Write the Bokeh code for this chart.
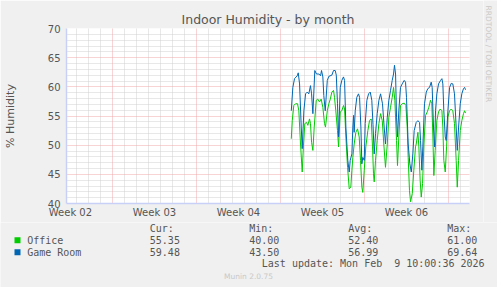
from math import pi
from bokeh.plotting import figure
from bokeh.layouts import column, row
from bokeh.models import Range1d, FixedTicker, Grid
from bokeh.core.properties import value
from bokeh.embed import file_html
from bokeh.resources import INLINE

# ---------------- data (x = days from left edge of the month window) ----------------
office_day = [18.73, 18.81, 18.94, 19.08, 19.25, 19.36, 19.50, 19.64, 19.75, 19.86, 20.00, 20.11,
              20.25, 20.33, 20.42, 20.53, 20.64, 20.81, 20.94, 21.08, 21.22, 21.36, 21.50, 21.58,
              21.73, 21.86, 21.98, 22.11, 22.25, 22.33, 22.44, 22.58, 22.67, 22.81, 22.94, 23.08,
              23.17, 23.28, 23.42, 23.56, 23.69, 23.78, 23.86, 23.97, 24.11, 24.25, 24.39, 24.50,
              24.61, 24.69, 24.81, 24.94, 25.11, 25.25, 25.39, 25.50, 25.58, 25.64, 25.75, 25.89,
              26.03, 26.17, 26.31, 26.44, 26.58, 26.73, 26.86, 27.00, 27.14, 27.25, 27.36, 27.50,
              27.58, 27.69, 27.83, 27.97, 28.14, 28.28, 28.39, 28.47, 28.58, 28.67, 28.81, 28.94,
              29.08, 29.14, 29.28, 29.36, 29.47, 29.56, 29.67, 29.78, 29.92, 30.06, 30.19, 30.33,
              30.44, 30.53, 30.61, 30.72, 30.86, 31.00, 31.14, 31.28, 31.36, 31.44, 31.56, 31.67,
              31.78, 31.92, 32.06, 32.19, 32.33, 32.47, 32.56, 32.67, 32.81, 32.94, 33.08, 33.17, 33.25]
office_val = [51.1, 54.2, 56.8, 57.1, 57.1, 55.9, 50.2, 45.4, 50.2, 53.7, 53.9, 53.4,
              54.5, 53.7, 50.5, 49.1, 53.1, 57.7, 57.9, 57.4, 57.9, 56.5, 53.7, 53.1,
              55.9, 57.1, 57.9, 59.1, 59.4, 58.2, 55.9, 52.5, 49.7, 55.7, 55.9, 56.8,
              56.2, 51.4, 46.2, 42.5, 42.8, 45.7, 47.9, 50.2, 52.2, 52.8, 51.4, 47.4,
              42.8, 41.9, 45.7, 49.7, 52.5, 54.2, 54.5, 49.7, 45.1, 43.7, 47.4, 50.8,
              53.7, 55.4, 54.2, 50.2, 46.2, 50.2, 54.8, 56.5, 58.2, 59.9, 57.7, 50.8,
              46.5, 51.4, 56.8, 57.1, 57.2, 56.8, 53.1, 47.9, 42.2, 40.3, 41.7, 45.7,
              49.7, 50.2, 52.2, 49.7, 43.9, 41.1, 43.4, 50.2, 55.1, 55.7, 56.5, 57.7,
              57.1, 51.4, 44.8, 49.1, 54.2, 55.7, 56.2, 55.9, 53.1, 47.4, 45.4, 49.7,
              54.8, 55.9, 56.2, 55.9, 53.7, 47.4, 42.8, 47.4, 52.5, 54.2, 55.4, 55.9, 55.5]

game_day = [18.73, 18.86, 19.00, 19.23, 19.31, 19.42, 19.56, 19.64, 19.78, 19.92, 20.06, 20.19,
            20.33, 20.42, 20.53, 20.69, 20.83, 21.03, 21.17, 21.25, 21.36, 21.44, 21.56, 21.73,
            21.86, 22.11, 22.25, 22.39, 22.48, 22.58, 22.67, 22.81, 22.94, 23.08, 23.17, 23.28,
            23.44, 23.56, 23.64, 23.78, 23.86, 23.92, 23.97, 24.06, 24.19, 24.33, 24.42, 24.53,
            24.61, 24.69, 24.81, 24.89, 25.03, 25.17, 25.31, 25.44, 25.54, 25.64, 25.75, 25.89,
            26.03, 26.17, 26.33, 26.47, 26.58, 26.73, 26.86, 27.00, 27.14, 27.25, 27.33, 27.42,
            27.50, 27.58, 27.69, 27.83, 27.97, 28.14, 28.25, 28.33, 28.47, 28.61, 28.73, 28.86,
            28.97, 29.14, 29.28, 29.42, 29.50, 29.61, 29.69, 29.83, 29.98, 30.11, 30.25, 30.39,
            30.47, 30.58, 30.67, 30.75, 30.86, 31.00, 31.17, 31.28, 31.36, 31.44, 31.56, 31.64,
            31.78, 31.92, 32.06, 32.19, 32.33, 32.47, 32.56, 32.67, 32.81, 32.94, 33.08, 33.17, 33.25]
game_val = [55.9, 59.9, 61.4, 61.9, 62.4, 60.5, 53.1, 49.4, 55.9, 58.8, 59.1, 58.8,
            60.2, 58.8, 55.4, 62.8, 62.2, 62.2, 61.9, 62.8, 61.7, 58.5, 55.9, 61.1,
            61.8, 62.0, 62.8, 62.8, 62.0, 57.1, 51.4, 59.9, 61.1, 61.7, 61.1, 53.1,
            47.4, 45.4, 47.4, 48.5, 53.1, 55.1, 52.2, 55.9, 58.2, 58.8, 58.2, 53.1,
            46.8, 47.9, 47.4, 53.7, 57.7, 58.8, 59.1, 57.7, 53.5, 48.5, 52.0, 55.4,
            57.7, 58.8, 57.1, 53.1, 50.2, 54.8, 57.7, 59.4, 61.1, 62.2, 63.7, 62.2,
            54.8, 51.4, 55.9, 59.9, 60.5, 61.1, 60.8, 58.2, 50.2, 46.8, 45.4, 48.5,
            52.5, 53.9, 54.2, 53.9, 50.8, 45.7, 49.7, 57.1, 59.1, 59.7, 59.9, 60.8,
            59.9, 53.1, 49.7, 55.9, 58.8, 60.5, 61.1, 61.4, 60.5, 55.9, 51.4, 50.8,
            55.9, 59.9, 60.6, 60.5, 58.8, 53.1, 49.1, 53.1, 57.1, 58.8, 59.7, 59.9, 59.5]

week_labels = ["Week 02", "Week 03", "Week 04", "Week 05", "Week 06"]
y_ticks = [40, 45, 50, 55, 60, 65, 70]

series_names = ["Office", "Game Room"]
series_colors = ["#00CC00", "#0066B3"]
cur_vals = ["55.35", "59.48"]
min_vals = ["40.00", "43.50"]
avg_vals = ["52.40", "56.99"]
max_vals = ["61.00", "69.64"]
headers = ["Cur:", "Min:", "Avg:", "Max:"]
title_text = "Indoor Humidity - by month"
y_label = "% Humidity"
last_update = "Last update: Mon Feb\u00a0\u00a09 10:00:36 2026"
footer = "Munin 2.0.75"
watermark = "RRDTOOL / TOBI OETIKER"

# ---------------- layout constants ----------------
W = 497
WM_W = 14
MAIN_H, LEG_H = 222, 65
LEFT, RIGHT, TOP, BOTTOM = 66, 14, 28, 19
X_END = 33.58          # days shown in the window
first_week_line = 3.83
week_label_offset = 3.5
TEXT = "#555555"
BG = "#F0F0F0"

p = figure(width=W - WM_W, height=MAIN_H, output_backend="svg", toolbar_location=None,
           x_range=Range1d(0, X_END), y_range=Range1d(40, 70),
           min_border_left=LEFT, min_border_right=RIGHT,
           min_border_top=TOP, min_border_bottom=BOTTOM)
p.frame_align = False
p.border_fill_color = BG
p.background_fill_color = "white"
p.outline_line_color = None
p.xgrid.visible = False
p.ygrid.visible = False

# title
p.title.text = title_text
p.title.align = "center"
p.title.offset = -19
p.title.text_font = "DejaVu Sans"
p.title.text_font_size = "12.5px"
p.title.text_font_style = "normal"
p.title.text_color = TEXT
p.title.standoff = 3

# grids
week_lines = [first_week_line + 7 * k for k in range(5)]
minor_days = [first_week_line - 3 + k for k in range(34) if first_week_line - 3 + k < X_END]
minor_days = [d for d in minor_days if all(abs(d - w) > 0.01 for w in week_lines)]
minor_y = [v for v in range(41, 70) if v % 5 != 0]
major_y = [45, 50, 55, 60, 65, 70]

for dim, ticks, col in [(0, minor_days, "#D0D0D0"), (1, minor_y, "#D0D0D0"),
                        (0, week_lines, "#F0A8A8"), (1, major_y, "#F0A8A8")]:
    p.add_layout(Grid(dimension=dim, ticker=FixedTicker(ticks=ticks),
                      grid_line_color=col, grid_line_dash="1 1", grid_line_width=1))

# axes
label_pos = [w - week_label_offset for w in week_lines]
p.xaxis.ticker = FixedTicker(ticks=label_pos)
p.xaxis.major_label_overrides = {pos: lab for pos, lab in zip(label_pos, week_labels)}
p.yaxis.ticker = FixedTicker(ticks=y_ticks)
for ax in (p.xaxis, p.yaxis):
    ax.axis_line_color = "#C8D0F8"
    ax.axis_line_width = 1.5
    ax.major_tick_line_color = None
    ax.minor_tick_line_color = None
    ax.major_tick_out = 0
    ax.major_tick_in = 0
    ax.major_label_text_font = "DejaVu Sans"
    ax.major_label_text_font_size = "10px"
    ax.major_label_text_color = TEXT
p.xaxis.major_label_standoff = 3
p.yaxis.major_label_standoff = 6
p.yaxis.axis_label = y_label
p.yaxis.axis_label_text_font = "DejaVu Sans"
p.yaxis.axis_label_text_font_size = "11px"
p.yaxis.axis_label_text_font_style = "normal"
p.yaxis.axis_label_text_color = TEXT
p.yaxis.axis_label_standoff = 28

# series
p.line(office_day, office_val, line_color=series_colors[0], line_width=1)
p.line(game_day, game_val, line_color=series_colors[1], line_width=1)


def strip(width, height):
    f = figure(width=width, height=height, output_backend="svg", toolbar_location=None,
               x_range=Range1d(0, width), y_range=Range1d(height, 0),
               min_border=0, min_border_left=0, min_border_right=0,
               min_border_top=0, min_border_bottom=0)
    f.frame_align = False
    f.axis.visible = False
    f.grid.visible = False
    f.outline_line_color = None
    f.background_fill_color = BG
    f.border_fill_color = BG
    return f


# ---------------- right watermark strip ----------------
wm = strip(WM_W, MAIN_H)
wm.text(x=[5.0], y=[5], text=[watermark], text_font=value("DejaVu Sans"),
        text_font_size="7.5px", text_color="#C8C8C8", text_baseline="middle",
        text_align="left", angle=-pi / 2)

# ---------------- legend strip ----------------
leg = strip(W, LEG_H)
col_x = [149.3, 248.7, 347.7, 446.7]
row_y0, row_dy = 17.7, 12
texts, tx, ty = [], [], []
for cx, h in zip(col_x, headers):
    texts.append(h); tx.append(cx); ty.append(5.7)
for i, name in enumerate(series_names):
    ry = row_y0 + row_dy * i
    texts.append(name); tx.append(26.7); ty.append(ry)
    for cx, v in zip(col_x, [cur_vals[i], min_vals[i], avg_vals[i], max_vals[i]]):
        texts.append(v); tx.append(cx); ty.append(ry)
texts.append(last_update); tx.append(261.3); ty.append(41.3)

leg.text(x=tx, y=ty, text=texts, text_font=value("DejaVu Sans Mono"), text_font_size="10px",
         text_color=TEXT, text_baseline="middle", text_align="left")
leg.text(x=[248], y=[54], text=[footer], text_font=value("DejaVu Sans"), text_font_size="7.5px",
         text_color="#C8C8C8", text_baseline="middle", text_align="center")
leg.scatter(x=[17, 17], y=[row_y0, row_y0 + row_dy], marker="square", size=6,
            fill_color=series_colors, line_color=None)

layout = column(row(p, wm, spacing=0), leg, spacing=0)
open("out.html", "w").write(file_html(layout, INLINE))
